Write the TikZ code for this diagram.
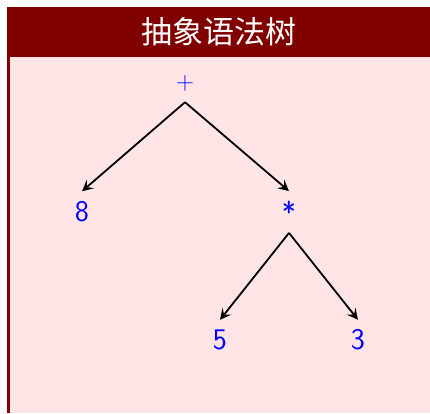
\documentclass[tikz,border=0pt]{standalone}
\usepackage{fontspec}
\newfontfamily\cjk{Noto Sans CJK SC}
\usetikzlibrary{arrows.meta}
\definecolor{darkred}{RGB}{128,0,0}
\definecolor{bodypink}{RGB}{255,229,229}
\tikzset{
  sym/.style={text=blue, font=\fontsize{30}{36}\selectfont\sffamily, inner sep=0pt, minimum width=20pt},
  link/.style={line width=1.8pt, -{Stealth[length=11pt,width=11pt,inset=4.5pt]}}
}
\begin{document}
\begin{tikzpicture}[x=1pt,y=-1pt]
\useasboundingbox (0,0) rectangle (430,413);
\fill[white] (0,0) rectangle (430,413);
% block body and frame
\fill[bodypink] (7,56.7) rectangle (430,413);
\fill[darkred] (7,56.7) rectangle (10,413);
\fill[darkred] (7,7) rectangle (429.5,56.7);
\node[text=white, font=\cjk\fontsize{31}{36}\selectfont, inner sep=0pt] (title) at (219,32) {抽象语法树};
% tree nodes
\node[sym, minimum height=38pt] (plus) at (185,83) {$+$};
\node[sym, minimum height=41pt] (eight) at (82,212) {8};
\node[sym, minimum height=41.4pt] (star) at (289,212) {*};
\node[sym, minimum height=40pt] (five) at (220,340) {5};
\node[sym, minimum height=40pt] (three) at (358,340) {3};
% connectors
\draw[link] (plus.south) -- (eight.north);
\draw[link] (plus.south) -- (star.north);
\draw[link] (star.south) -- (five.north);
\draw[link] (star.south) -- (three.north);
\end{tikzpicture}
\end{document}
